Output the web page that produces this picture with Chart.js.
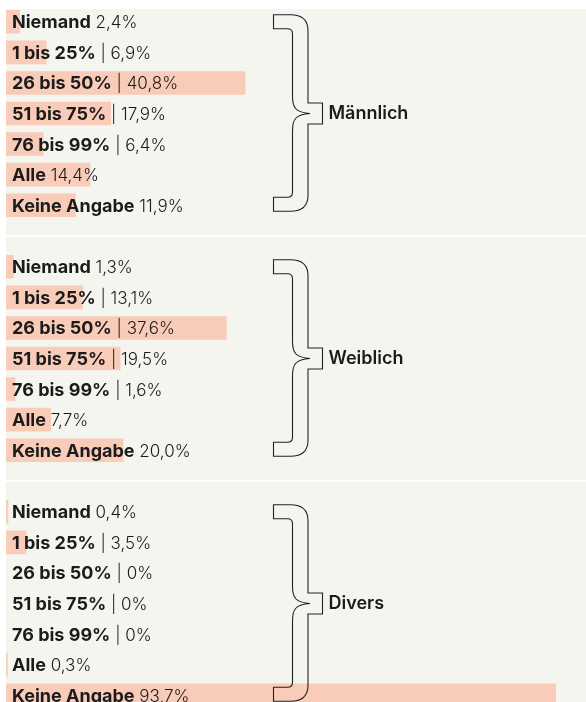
<!DOCTYPE html>
<html lang="de">
<head>
<meta charset="utf-8">
<title>Anteil nach Geschlecht</title>
<script src="https://cdn.jsdelivr.net/npm/chart.js@4/dist/chart.umd.min.js"></script>
<style>
    html, body { margin: 0; padding: 0; background: #ffffff; width: 586px; height: 702px; overflow: hidden; }
    .panel { position: absolute; left: 6px; width: 580px; background: #f5f5f0; overflow: hidden; }
    .panel canvas { position: absolute; left: 0; }
    #p1 { top: 9px; height: 226px; }
    #p1 canvas { top: -17px; }
    #p2 { top: 237px; height: 243px; }
    #p2 canvas { top: 0; }
    #p3 { top: 482px; height: 242px; }
    #p3 canvas { top: 0; }
</style>
</head>
<body>
<div class="panel" id="p1"><canvas id="chartM" width="580" height="242"></canvas></div>
<div class="panel" id="p2"><canvas id="chartW" width="580" height="242"></canvas></div>
<div class="panel" id="p3"><canvas id="chartD" width="580" height="242"></canvas></div>
<script>
// Daten
const categories = ['Niemand', '1 bis 25%', '26 bis 50%', '51 bis 75%', '76 bis 99%', 'Alle', 'Keine Angabe'];
const separators = [' ', ' | ', ' | ', ' | ', ' | ', ' ', ' '];
const groups = ['Männlich', 'Weiblich', 'Divers'];
const maleValues = [2.4, 6.9, 40.8, 17.9, 6.4, 14.4, 11.9];
const femaleValues = [1.3, 13.1, 37.6, 19.5, 1.6, 7.7, 20.0];
const diverseValues = [0.4, 3.5, 0, 0, 0, 0.3, 93.7];

const BAR_COLOR = '#f9cbb9';
const TEXT_COLOR = '#1b1b1b';

const formatValue = (v) => v === 0 ? '0%' : v.toFixed(1).replace('.', ',') + '%';

// Beschriftung auf den Balken + geschweifte Klammer rechts
const labelPlugin = {
    id: 'rowLabels',
    afterDatasetsDraw(chart, args, opts) {
        const ctx = chart.ctx;
        const meta = chart.getDatasetMeta(0);
        const values = chart.data.datasets[0].data;
        ctx.save();
        ctx.fillStyle = TEXT_COLOR;
        ctx.textBaseline = 'alphabetic';
        meta.data.forEach((bar, i) => {
            const y = bar.y + 6.5;
            let x = 6;
            ctx.font = '700 18px Inter';
            ctx.fillText(categories[i], x, y);
            x += ctx.measureText(categories[i]).width;
            ctx.font = '300 17px Inter';
            const rest = separators[i] + formatValue(values[i]);
            ctx.fillText(rest, x, y);
        });

        // Klammer
        const top = meta.data[0].y - 7;
        const bottom = meta.data[meta.data.length - 1].y + 6;
        const mid = (meta.data[0].y + meta.data[meta.data.length - 1].y) / 2;
        const L = 267.5, I = 286.5, O = 302, T = 316.5, tip = 304, a = 14, tab = 10.5;
        ctx.beginPath();
        ctx.moveTo(L, top);
        ctx.lineTo(I - 2, top);
        ctx.quadraticCurveTo(O, top, O, top + 16);
        ctx.lineTo(O, mid - tab);
        ctx.lineTo(T, mid - tab);
        ctx.lineTo(T, mid + tab);
        ctx.lineTo(O, mid + tab);
        ctx.lineTo(O, bottom - 16);
        ctx.quadraticCurveTo(O, bottom, I - 2, bottom);
        ctx.lineTo(L, bottom);
        ctx.lineTo(L, bottom - a);
        ctx.lineTo(I - 5, bottom - a);
        ctx.quadraticCurveTo(I, bottom - a, I, bottom - a - 5);
        ctx.lineTo(I, mid + 17);
        ctx.bezierCurveTo(I, mid + 6, I + 3, mid + 1, tip, mid);
        ctx.bezierCurveTo(I + 3, mid - 1, I, mid - 6, I, mid - 17);
        ctx.lineTo(I, top + a + 5);
        ctx.quadraticCurveTo(I, top + a, I - 5, top + a);
        ctx.lineTo(L, top + a);
        ctx.closePath();
        ctx.strokeStyle = '#222222';
        ctx.lineWidth = 1.1;
        ctx.stroke();

        ctx.font = '600 18px Inter';
        ctx.textBaseline = 'middle';
        ctx.fillStyle = TEXT_COLOR;
        ctx.fillText(opts.group, T + 6, mid + 0.5);
        ctx.restore();
    }
};

const makeChart = (id, values, group) => new Chart(document.getElementById(id), {
    type: 'bar',
    data: {
        labels: categories,
        datasets: [{
            data: values,
            backgroundColor: BAR_COLOR,
            borderWidth: 0,
            barPercentage: 0.77,
            categoryPercentage: 1
        }]
    },
    options: {
        indexAxis: 'y',
        responsive: false,
        animation: false,
        layout: { padding: { top: 14.5, bottom: 13.5, left: 0, right: 0 } },
        plugins: {
            legend: { display: false },
            tooltip: { enabled: false },
            rowLabels: { group: group }
        },
        scales: {
            x: { display: false, min: 0, max: 98.8 },
            y: { display: false }
        }
    },
    plugins: [labelPlugin]
});

makeChart('chartM', maleValues, groups[0]);
makeChart('chartW', femaleValues, groups[1]);
makeChart('chartD', diverseValues, groups[2]);
</script>
</body>
</html>
